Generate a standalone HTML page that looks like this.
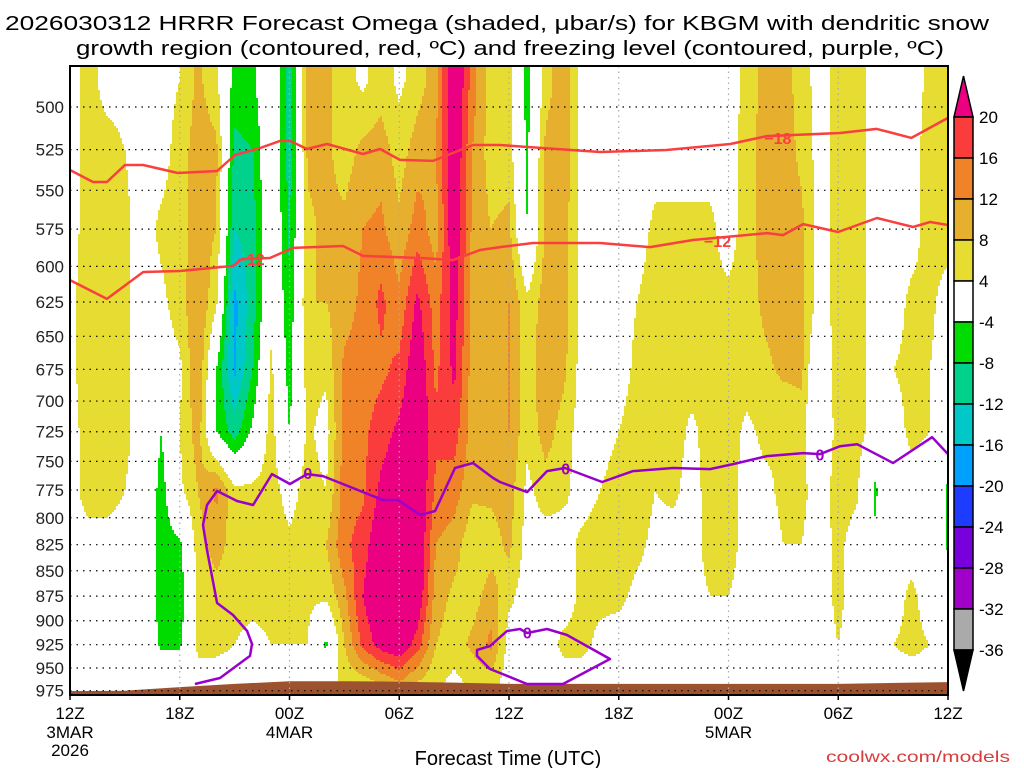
<!DOCTYPE html>
<html><head><meta charset="utf-8"><style>
html,body{margin:0;padding:0;background:#fff}
svg{display:block}
text{font-family:"Liberation Sans",sans-serif}
</style></head><body>
<svg id="chart" width="1024" height="768" viewBox="0 0 1024 768" xmlns="http://www.w3.org/2000/svg">
<rect width="1024" height="768" fill="#fff"/>
<g id="title">
<text x="497" y="30" font-size="20" text-anchor="middle" textLength="984" lengthAdjust="spacingAndGlyphs">2026030312 HRRR Forecast Omega (shaded, μbar/s) for KBGM with dendritic snow</text>
<text x="510" y="55" font-size="20" text-anchor="middle" textLength="868" lengthAdjust="spacingAndGlyphs">growth region (contoured, red, ºC) and freezing level (contoured, purple, ºC)</text>
</g>
<g id="shade"></g>
<g id="ground"></g>
<g id="grid"></g>
<g id="contours"></g>
<g id="axes"></g>
<g id="cbar"></g>
<text x="508" y="765" font-size="20" text-anchor="middle">Forecast Time (UTC)</text>
<text x="918" y="762" font-size="16" text-anchor="middle" fill="#d83c3c" textLength="184" lengthAdjust="spacingAndGlyphs">coolwx.com/models</text>
</svg>
<script>
const levels=[485,525,575,625,675,725,775,825,875,925,965];
const hours=[];for(let i=0;i<=48;i++)hours.push(i);
const omegaByHour=[
[2,2,2,3,3,2,2,2,2,2,2],
[6,6,6,6,6,6,6,2,2,2,2],
[2,6,6,6,6,7,6,2,2,2,2],
[2,4,5,5,5,5,4,2,4,2,2],
[2,2,2,2,2,2,2,2,2,2,2],
[2,2,5,3,2,-4,-6,-6,-7,-5,2],
[4,6,6,6,3,4,3,-5,-7,-5,2],
[9,10,10,12,12,10,8,6,5,5,2],
[5,9,8,5,-4,-4,13,10,6,5,2],
[-6,-9,-12,-17,-17,-10,5,6,5,4,2],
[-5,-8,-10,-10,-8,-3,5,5,5,3,2],
[2,2,2,2,5,6,6,6,5,4,2],
[-10,-10,-9,-7,-6,-4,2,5,5,4,2],
[9,9,7,8,6,5,6,6,5,4,2],
[9,9,9,8,5,2,4,8,5,-5,2],
[6,6,9,10,13,14,14,15,11,8,5],
[3,9,12,13,14,15,15,18,20,17,6],
[6,10,13,17,15,18,21,24,25,22,9],
[3,6,9,13,17,21,24,25,26,24,12],
[6,10,14,21,24,25,25,25,24,18,8],
[10,12,10,14,15,17,15,12,10,8,5],
[26,25,24,22,21,18,14,10,7,6,3],
[14,12,11,11,10,10,9,5,6,9,5],
[6,6,8,9,9,10,9,6,10,13,6],
[6,6,9,12,12,12,10,9,5,2,2],
[-6,-5,-4,5,5,5,3,2,2,2,2],
[6,9,9,10,12,10,6,2,2,2,2],
[11,11,10,10,9,6,5,2,2,5,2],
[2,2,2,2,2,2,2,5,5,5,2],
[2,2,2,2,2,2,4,6,5,3,2],
[2,2,2,2,2,4,6,6,5,2,2],
[2,2,2,4,5,6,6,5,3,2,2],
[2,2,5,6,6,6,4,3,2,2,2],
[2,2,5,6,6,6,5,2,2,2,2],
[2,2,5,6,6,3,2,2,2,2,2],
[2,2,5,5,6,6,6,6,4,2,2],
[2,2,2,5,6,6,6,6,4,2,2],
[5,6,6,6,6,3,2,2,2,2,2],
[10,10,10,9,7,5,3,2,4,3,2],
[10,10,10,10,9,4,5,4,2,2,2],
[6,7,9,9,9,6,5,4,2,2,2],
[2,2,2,2,-4,-4,2,2,2,2,2],
[6,6,6,6,8,7,6,5,5,4,2],
[6,6,6,6,6,6,5,2,2,2,2],
[2,2,2,2,2,2,-5,-3,2,2,2],
[2,2,2,2,4,2,2,2,2,4,2],
[2,2,2,5,5,5,2,2,5,5,2],
[5,6,6,5,4,4,2,2,2,4,2],
[6,6,6,2,2,2,-5,-5,2,2,2]];
const shadeLevels=[-36,-32,-28,-24,-20,-16,-12,-8,-4,4,8,12,16,20];
const shadeColors=["#000000","#aaaaaa","#a000c8","#7800dc","#1e3cff","#00a0ff","#00c8c8","#00d28c","#00dc00","#ffffff","#e6dc32","#e6af2d","#f08228","#fa3c3c","#eb0082"];
const tempM18Hours=[0,1.26,2.02,3,4,5.9,8.04,9.02,10.39,11.48,12.03,12.96,14.05,16.02,16.95,18.04,19.85,22.03,23.5,28.98,32.6,36.1,38.1,42.1,44.1,46,48];
const tempM18Press=[537.4,544.8,544.8,534.3,534.3,539.2,538,528.2,524,519.8,519.8,524.6,521.6,527.6,524.6,531.2,531.8,522.2,522.2,526.4,525.2,521.6,516.9,515.1,512.7,518,506.3];
const tempM12Hours=[0,2.02,4,6.01,8.91,9.4,10.93,12.19,14.93,16.02,19.14,20.94,22.42,23.51,25.31,28.98,31.71,34.06,38.11,38.98,40.08,41.99,44.12,46.09,47.02,48];
const tempM12Press=[609.5,622.8,603.9,603.2,599.7,595,594.3,587.5,586.2,592.9,594.3,595.7,588.9,586.9,584.2,584.2,586.9,582.2,577.6,578.9,571.7,576.9,567.7,573.6,570.3,572.3];
const frzHours=[6.83,8.2,9.84,9.95,9.68,8.91,8.04,7.49,7.27,7.49,8.04,9.13,10.01,11.04,12.03,12.96,13.83,17.11,17.93,19.14,19.96,21.05,22.03,23.13,23.51,24.99,26.08,27.06,29.09,30.78,32.97,34.99,36.25,38.11,40.08,41.01,42.1,43.03,45,47.13,48];
const frzPress=[967.6,961,937,924.3,910.6,894.1,881.9,830,806.6,788.4,775.9,784.8,788.4,761,769.7,761,762.7,783.9,783.9,797.5,793.8,755.7,751.4,764.4,767.9,776.8,758.4,755.7,767.9,758.4,755.7,756.7,752.3,745.5,742.9,743.8,737.1,735.4,751.4,729.5,743.8];
const frzLoopHours=[22.25,22.96,23.89,24.6,24.99,26.08,27.17,29.52,26.95,24.99,23.51,22.96,22.25,22.25];
const frzLoopPress=[930.7,926.4,910.6,908.6,912.7,908.6,914.8,940.3,967.6,967.6,955.5,951.1,937,930.7];
const groundHours=[0,3,6,9,12,15,18,21,24,30,36,42,46,48];
const groundPress=[975.5,975,971,967.5,964.5,964.5,965,966,967.5,967.5,967.5,967.5,966,965.5];
const yTickLabels=[500,525,550,575,600,625,650,675,700,725,750,775,800,825,850,875,900,925,950,975];
const xTickHours=[0,6,12,18,24,30,36,42,48];
const xTickLabels=["12Z","18Z","00Z","06Z","12Z","18Z","00Z","06Z","12Z"];
const xDateLabels={0:"3MAR",12:"4MAR",36:"5MAR"};
const cbarLabels=[20,16,12,8,4,-4,-8,-12,-16,-20,-24,-28,-32,-36];

const NS="http://www.w3.org/2000/svg";
const X0=70,X1=948,Y0=66,Y1=695;
function xOf(h){return X0+h*(X1-X0)/48;}
function yOf(p){return 107+874*Math.log(p/500);}
function pOf(y){return 500*Math.exp((y-107)/874);}
function mk(tag,attrs,parent){const e=document.createElementNS(NS,tag);for(const k in attrs)e.setAttribute(k,attrs[k]);parent.appendChild(e);return e;}
function colorIdx(v){let i=0;while(i<shadeLevels.length&&v>=shadeLevels[i])i++;return i;}

const shadeG=document.getElementById('shade');
const lnL=levels.map(Math.log);
const step=2;
for(let y=Y0;y<Y1;y+=step){
  const lp=Math.log(pOf(y+step/2));
  let r=0;while(r<levels.length-2&&lp>lnL[r+1])r++;
  let fr=(lp-lnL[r])/(lnL[r+1]-lnL[r]);fr=Math.max(0,Math.min(1,fr));
  let runStart=X0,runC=-1;
  for(let x=X0;x<=X1;x+=step){
    let c=-2;
    if(x<X1){
      const h=(x+step/2-X0)/(X1-X0)*48;
      let c0=Math.min(47,Math.floor(h));let fc=h-c0;
      const a=omegaByHour[c0][r]*(1-fr)+omegaByHour[c0][r+1]*fr;
      const b=omegaByHour[c0+1][r]*(1-fr)+omegaByHour[c0+1][r+1]*fr;
      c=colorIdx(a*(1-fc)+b*fc);
    }
    if(c!==runC){
      if(runC>=0&&shadeColors[runC]!=="#ffffff"){
        const rc=mk('rect',{x:runStart,y:y,width:x-runStart,height:step,fill:shadeColors[runC]},shadeG);
        
        
      }
      runStart=x;runC=c;
    }
  }
}
const groundG=document.getElementById('ground');
let gp="M"+X0+","+Y1;
groundHours.forEach((h,i)=>{gp+=" L"+xOf(h).toFixed(1)+","+yOf(groundPress[i]).toFixed(1);});
gp+=" L"+X1+","+Y1+" Z";
const gpath=mk('path',{d:gp,fill:"#9c522e"},groundG);



const gridG=document.getElementById('grid');
yTickLabels.forEach(p=>{
  const l=mk('line',{x1:X0,x2:X1,y1:yOf(p),y2:yOf(p),stroke:"#000","stroke-width":1.2,"stroke-dasharray":"1.5,5"},gridG);
  
  
});
xTickHours.forEach(h=>{
  if(h===0||h===48)return;
  const l=mk('line',{x1:xOf(h),x2:xOf(h),y1:Y0,y2:Y1,stroke:"#aaa","stroke-width":1.2,"stroke-dasharray":"1.5,4"},gridG);
  
  
});

const ctG=document.getElementById('contours');
function drawLine(hs,ps,color,name,close){
  const pts=hs.map((h,i)=>xOf(h).toFixed(1)+","+yOf(ps[i]).toFixed(1)).join(" ");
  const e=mk(close?'polygon':'polyline',{points:pts,fill:"none",stroke:color,"stroke-width":2.5,"stroke-linejoin":"round"},ctG);
  
  
}
drawLine(tempM18Hours,tempM18Press,"#f84040","contour-minus18");
drawLine(tempM12Hours,tempM12Press,"#f84040","contour-minus12");
drawLine(frzHours,frzPress,"#9a00cc","freezing-level-contour");
drawLine(frzLoopHours,frzLoopPress,"#9a00cc","freezing-level-loop",true);
function clabel(h,p,t,color){
  const e=mk('text',{x:xOf(h),y:yOf(p)+6,"font-size":16,"font-weight":"bold",fill:color,"text-anchor":"middle"},ctG);
  e.textContent=t;
  
  
}
clabel(38.7,518,"−18","#f84040");
clabel(9.9,595,"−12","#f84040");
clabel(35.4,583,"−12","#f84040");
clabel(13,760,"0","#9a00cc");
clabel(27.1,756,"0","#9a00cc");
clabel(41,744,"0","#9a00cc");
clabel(25,912,"0","#9a00cc");

const axG=document.getElementById('axes');
const frameRect=mk('rect',{x:X0,y:Y0,width:X1-X0,height:Y1-Y0,fill:"none",stroke:"#000","stroke-width":2},axG);


yTickLabels.forEach(p=>{
  const t=mk('text',{x:64,y:yOf(p)+6,"font-size":17,"text-anchor":"end",fill:"#222"},axG);
  t.textContent=p;
  
  
});
xTickHours.forEach((h,i)=>{
  const tk=mk('line',{x1:xOf(h),x2:xOf(h),y1:Y1,y2:Y1+5,stroke:"#000","stroke-width":1.5},axG);
  
  
  const t=mk('text',{x:xOf(h),y:719,"font-size":17,"text-anchor":"middle"},axG);
  t.textContent=xTickLabels[i];
  
  
  if(xDateLabels[h]){
    const d=mk('text',{x:xOf(h),y:738,"font-size":17,"text-anchor":"middle"},axG);
    d.textContent=xDateLabels[h];
    
    
  }
});
const yr=mk('text',{x:xOf(0),y:756,"font-size":17,"text-anchor":"middle"},axG);
yr.textContent="2026";



const cbG=document.getElementById('cbar');
const CX=954,CW=19,CT=117,CH=41;
const cbTop=mk('polygon',{points:`${CX},${CT} ${CX+CW},${CT} ${CX+CW/2},76`,fill:shadeColors[14],stroke:"#000","stroke-width":1.5},cbG);


for(let i=0;i<13;i++){
  const r=mk('rect',{x:CX,y:CT+i*CH,width:CW,height:CH,fill:shadeColors[13-i],stroke:"#000","stroke-width":1.5},cbG);
  
  
}
const cbBot=mk('polygon',{points:`${CX},${CT+13*CH} ${CX+CW},${CT+13*CH} ${CX+CW/2},691`,fill:"#000",stroke:"#000","stroke-width":1.5},cbG);


cbarLabels.forEach((v,i)=>{
  const t=mk('text',{x:979,y:CT+i*CH+6,"font-size":17},cbG);
  t.textContent=v;
  
  
});
</script>
</body></html>
